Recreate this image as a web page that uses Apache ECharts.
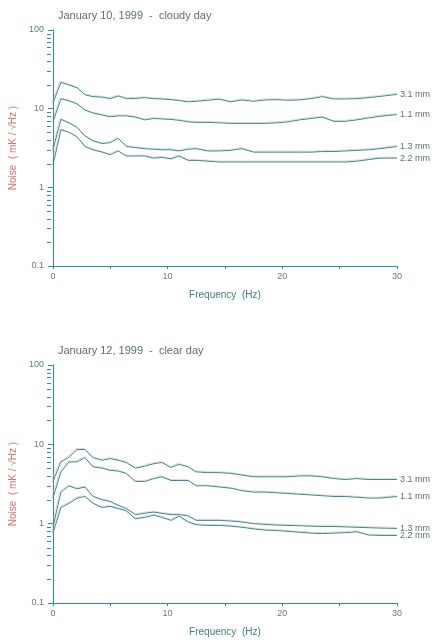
<!DOCTYPE html>
<html lang="en">
<head>
<meta charset="UTF-8">
<script src="https://cdn.jsdelivr.net/npm/echarts@6/dist/echarts.min.js"></script>
<title>Noise spectra</title>
<style>
  *{margin:0;padding:0}
  html,body{width:100%;height:100%;background:#fff}
  #main{width:432px;height:642px}
</style>
</head>
<body>
<div id="main"></div>
<script type="text/javascript">
// frequency grid (Hz), shared by all curves
var freq = [0, 0.7, 1.4, 2.1, 2.8, 3.5, 4.3, 5, 5.7, 6.4, 7.2, 8, 8.8, 9.5, 10.3, 11, 11.8, 12.5,
            13.5, 14.5, 15.5, 16.5, 17.5, 18.5, 19.5, 20.5, 21.5, 22.5, 23.5, 24.5, 25.5, 26.5, 27.5, 28.5, 30];

var seriesNames = ['3.1 mm', '1.1 mm', '1.3 mm', '2.2 mm'];
var titles = ['January 10, 1999  -  cloudy day', 'January 12, 1999  -  clear day'];
var yTicks = [0.1, 1, 10, 100];

// Jan 10 - cloudy
var cloudy31 = [11.8, 21.6, 20, 18.5, 15, 14.2, 14, 13.4, 14.5, 13.4, 13.5, 13.8, 13.4, 13.3, 13.0, 12.7, 12.2, 12.4,
                12.8, 13.2, 12.2, 12.9, 12.4, 12.9, 13, 12.8, 12.9, 13.4, 14.2, 13.3, 13.3, 13.4, 13.8, 14.3, 15.2];
var cloudy11 = [6.8, 13.3, 12.6, 11.5, 9.6, 8.8, 8.3, 7.9, 8.1, 8.1, 7.8, 7.2, 7.5, 7.4, 7.3, 7.1, 6.8, 6.7,
                6.7, 6.6, 6.5, 6.5, 6.5, 6.5, 6.6, 6.8, 7.2, 7.5, 7.8, 6.9, 6.9, 7.2, 7.6, 8.0, 8.4];
var cloudy13 = [3.0, 7.3, 6.6, 5.8, 4.5, 3.9, 3.6, 3.7, 4.2, 3.3, 3.2, 3.1, 3.05, 3.0, 3.0, 2.9, 3.05, 3.1,
                2.9, 2.9, 2.95, 3.1, 2.8, 2.8, 2.8, 2.8, 2.8, 2.8, 2.85, 2.85, 2.9, 2.95, 3.0, 3.1, 3.3];
var cloudy22 = [1.9, 5.4, 5.0, 4.4, 3.3, 3.0, 2.8, 2.6, 2.9, 2.5, 2.5, 2.5, 2.35, 2.4, 2.3, 2.5, 2.2, 2.2,
                2.15, 2.1, 2.1, 2.1, 2.1, 2.1, 2.1, 2.1, 2.1, 2.1, 2.1, 2.1, 2.1, 2.15, 2.25, 2.35, 2.35];

// Jan 12 - clear
var clear31 = [3.4, 6.0, 6.9, 8.6, 8.6, 6.8, 6.3, 6.6, 6.3, 5.9, 5.0, 5.3, 5.7, 5.9, 5.1, 5.6, 5.2, 4.5,
               4.4, 4.4, 4.3, 4.1, 3.9, 3.9, 3.9, 3.9, 4.0, 4.0, 3.9, 3.7, 3.6, 3.7, 3.6, 3.6, 3.6];
var clear11 = [2.1, 4.5, 6.0, 6.0, 6.8, 5.2, 5.0, 4.7, 4.6, 4.3, 3.4, 3.4, 3.7, 3.9, 3.5, 3.5, 3.5, 3.0,
               3.0, 2.9, 2.8, 2.6, 2.5, 2.5, 2.45, 2.4, 2.35, 2.3, 2.25, 2.2, 2.2, 2.15, 2.1, 2.1, 2.2];
var clear13 = [0.91, 2.5, 3.0, 2.75, 2.9, 2.2, 2.0, 1.9, 1.7, 1.55, 1.3, 1.35, 1.4, 1.35, 1.3, 1.3, 1.25, 1.1,
               1.1, 1.1, 1.08, 1.05, 1.0, 0.98, 0.96, 0.95, 0.94, 0.93, 0.92, 0.92, 0.91, 0.9, 0.89, 0.88, 0.87];
var clear22 = [0.76, 1.6, 1.8, 2.1, 2.2, 1.8, 1.6, 1.65, 1.55, 1.45, 1.15, 1.2, 1.28, 1.2, 1.1, 1.24, 1.05, 0.97,
               0.95, 0.95, 0.93, 0.9, 0.86, 0.83, 0.82, 0.8, 0.78, 0.76, 0.75, 0.76, 0.77, 0.79, 0.72, 0.71, 0.71];

var panels = [[cloudy31, cloudy11, cloudy13, cloudy22], [clear31, clear11, clear13, clear22]];

var FONT = '"Liberation Sans", Arial, sans-serif';
var TEAL = '#2b9090';
var RED = 'rgba(240,140,140,0.4)';
var gridTops = [30, 365];
var gridHeights = [236, 238];

function pairs(vals) {
  var out = [];
  for (var i = 0; i < vals.length; i++) out.push([freq[i], vals[i]]);
  return out;
}

var grids = [], xAxes = [], yAxes = [], series = [], titleOpts = [];
for (var p = 0; p < 2; p++) {
  grids.push({left: 51, right: 35, top: gridTops[p], height: gridHeights[p]});
  titleOpts.push({
    text: titles[p], left: 53, top: gridTops[p] - 25,
    textStyle: {fontFamily: FONT, fontSize: 11, fontWeight: 'normal', color: '#5b6f6f'}
  });
  xAxes.push({
    type: 'value', gridIndex: p, min: 0, max: 30, interval: 5,
    name: 'Frequency  (Hz)', nameLocation: 'middle', nameGap: 24,
    nameTextStyle: {fontFamily: FONT, fontSize: 10, color: '#3f7f7f'},
    axisLine: {lineStyle: {color: TEAL, width: 1}},
    axisTick: {length: 3, lineStyle: {color: TEAL}},
    axisLabel: {fontFamily: FONT, fontSize: 9, color: '#5f7d7d', margin: 6,
      formatter: function (v) { return v % 10 === 0 ? String(v) : ''; }},
    splitLine: {show: false}
  });
  yAxes.push({
    type: 'log', logBase: 10, gridIndex: p, min: 0.1, max: 100,
    name: 'Noise  ( mK / \u221AHz )', nameLocation: 'middle', nameGap: 34,
    nameTextStyle: {fontFamily: FONT, fontSize: 10, color: '#d9706f'},
    axisLine: {show: true, lineStyle: {color: TEAL, width: 1}},
    axisTick: {show: true, length: 5, lineStyle: {color: TEAL}},
    axisLabel: {fontFamily: FONT, fontSize: 9, color: '#5f7d7d', margin: 9,
      formatter: function (v) { return String(+v.toPrecision(3)); }},
    splitLine: {show: false}
  });
  for (var s = 0; s < 4; s++) {
    series.push({
      name: seriesNames[s], type: 'line', xAxisIndex: p, yAxisIndex: p,
      data: pairs(panels[p][s]), symbol: 'none', animation: false,
      lineStyle: {color: TEAL, width: 1, shadowColor: RED, shadowOffsetX: -1, shadowOffsetY: -1, shadowBlur: 0},
      endLabel: {show: true, formatter: seriesNames[s], distance: 3,
        fontFamily: FONT, fontSize: 9, color: '#5f7373'}
    });
  }
}

var chart = echarts.init(document.getElementById('main'), null, {renderer: 'canvas'});
chart.setOption({
  animation: false,
  title: titleOpts,
  grid: grids,
  xAxis: xAxes,
  yAxis: yAxes,
  series: series
});

// log-style minor ticks (2..9 in each decade), positioned from the axis scale
var minor = [];
for (var g = 0; g < 2; g++) {
  for (var d = 0; d < yTicks.length - 1; d++) {
    for (var m = 2; m <= 9; m++) {
      var pt = chart.convertToPixel({gridIndex: g}, [0, yTicks[d] * m]);
      var yy = Math.round(pt[1]) + 0.5;
      minor.push({
        type: 'line', silent: true, z: 10,
        shape: {x1: 47, y1: yy, x2: 51, y2: yy},
        style: {stroke: TEAL, lineWidth: 1}
      });
    }
  }
}
chart.setOption({graphic: minor});
</script>
</body>
</html>
